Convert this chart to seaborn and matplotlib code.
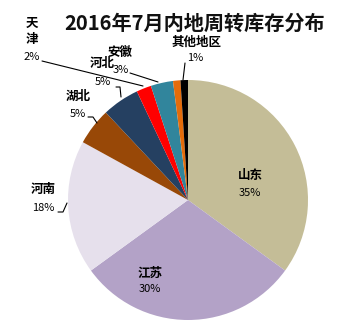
import matplotlib
matplotlib.use("Agg")
import matplotlib.pyplot as plt
import seaborn as sns

sns.set_theme(style="white")
plt.rcParams["font.family"] = ["Noto Sans CJK SC", "DejaVu Sans"]

# Inventory share by region, clockwise from 12 o'clock
regions = ["山东", "江苏", "河南", "湖北", "河北", "天津", "安徽", "其他省份", "其他地区"]
shares = [35, 30, 18, 5, 5, 2, 3, 1, 1]
colors = ["#C4BD97", "#B3A2C7", "#E6E0EC", "#984807", "#254061",
          "#FF0000", "#31859C", "#E46C0A", "#000000"]
palette = sns.color_palette(colors)

title = "2016年7月内地周转库存分布"

W, H = 353, 325
fig = plt.figure(figsize=(W / 100, H / 100), dpi=100)
ax = fig.add_axes([0, 0, 1, 1])

cx, cy, r = 188, H - 200, 120
ax.pie(shares, colors=palette, startangle=90, counterclock=False,
       center=(cx, cy), radius=r, frame=True,
       wedgeprops=dict(linewidth=0))
ax.set_xlim(0, W)
ax.set_ylim(0, H)
ax.set_aspect("equal")
ax.axis("off")

def Y(v):
    return H - v

ax.text(195, Y(23), title, ha="center", va="center",
        fontsize=14.5, fontweight="bold", color="#111111")

name_fs, pct_fs = 9, 8

# label name, name pos, percent pos
labels = {
    "山东": ((250, 175), (250, 193)),
    "江苏": ((150, 273), (150, 289)),
    "河南": ((43, 189), (43, 208)),
    "湖北": ((78, 96), (78, 114)),
    "河北": ((102, 63), (103, 82)),
    "安徽": ((120, 52), (121, 70)),
    "其他地区": ((197, 42), (195, 58)),
}
for name, value in zip(regions, shares):
    if name in labels:
        (nx, ny), (px, py) = labels[name]
        ax.text(nx, Y(ny), name, ha="center", va="center",
                fontsize=name_fs, fontweight="bold", color="black")
        ax.text(px, Y(py), f"{value}%", ha="center", va="center",
                fontsize=pct_fs, color="black")

# 天津 label stacked vertically
tj = regions.index("天津")
ax.text(32, Y(23), "天", ha="center", va="center", fontsize=name_fs,
        fontweight="bold", color="black")
ax.text(32, Y(40), "津", ha="center", va="center", fontsize=name_fs,
        fontweight="bold", color="black")
ax.text(32, Y(57), f"{shares[tj]}%", ha="center", va="center",
        fontsize=pct_fs, color="black")

# leader lines
leaders = [
    [(42, 61), (143, 86)],
    [(130, 73), (158, 82)],
    [(116, 87), (120, 87), (121, 97)],
    [(88, 117), (93, 117), (97, 123)],
    [(58, 212), (63, 212), (67, 203)],
    [(185, 63), (183, 80)],
]
for pts in leaders:
    xs = [p[0] for p in pts]
    ys = [Y(p[1]) for p in pts]
    ax.plot(xs, ys, color="black", linewidth=0.8)

fig.savefig("out.png", dpi=100)
